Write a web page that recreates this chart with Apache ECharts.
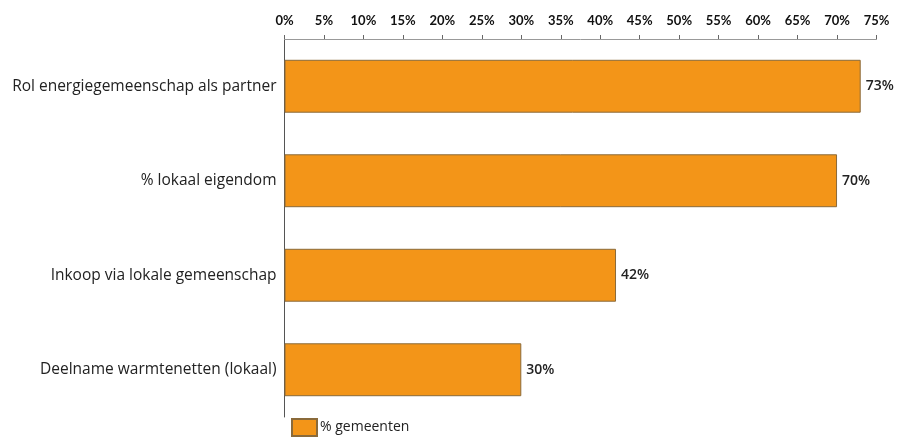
<!DOCTYPE html>
<html>
<head>
<meta charset="utf-8">
<script src="https://cdn.jsdelivr.net/npm/echarts@6/dist/echarts.min.js"></script>
<style>
html,body{margin:0;padding:0;background:#fff;}
#c{width:901px;height:445px;}
</style>
</head>
<body>
<div id="c"></div>
<script>
var categories = ['Rol energiegemeenschap als partner', '% lokaal eigendom', 'Inkoop via lokale gemeenschap', 'Deelname warmtenetten (lokaal)'];
var values = [73, 70, 42, 30];
var seriesName = '% gemeenten';
var tickMin = 0, tickMax = 75, tickStep = 5;

var chart = echarts.init(document.getElementById('c'));
var font = '"Open Sans", "Noto Sans", sans-serif';
chart.setOption({
  animation: false,
  backgroundColor: '#fff',
  grid: { left: 284.5, right: 24.5, top: 39, bottom: 28 },
  legend: {
    left: 286, bottom: 3, icon: 'rect',
    itemWidth: 25, itemHeight: 17, itemGap: 4,
    textStyle: { fontFamily: font, fontSize: 14, fontWeight: 500, color: '#222', padding: [0,0,0,-2] },
    data: [seriesName]
  },
  xAxis: {
    type: 'value', position: 'top',
    min: tickMin, max: tickMax, interval: tickStep,
    axisLine: { show: true, lineStyle: { color: '#999', width: 1 } },
    axisTick: { show: true, length: 4, lineStyle: { color: '#666' } },
    splitLine: { show: false },
    axisLabel: { formatter: '{value}%', margin: 12, fontFamily: 'Lato, sans-serif', fontSize: 13, fontWeight: 'bold', color: '#111' }
  },
  yAxis: {
    type: 'category', inverse: true, data: categories,
    axisLine: { show: true, lineStyle: { color: '#555', width: 1 } },
    axisTick: { show: false },
    axisLabel: { margin: 8, fontFamily: font, fontSize: 15.5, fontWeight: 500, color: '#222' }
  },
  series: [{
    name: seriesName, type: 'bar', data: values, barWidth: '56%',
    itemStyle: { color: '#F39518', borderColor: '#8a6a3a', borderWidth: 1 },
    label: { show: true, position: 'right', distance: 5, formatter: '{c}%', fontFamily: font, fontSize: 14, fontWeight: 600, color: '#222' }
  }]
});
</script>
</body>
</html>
